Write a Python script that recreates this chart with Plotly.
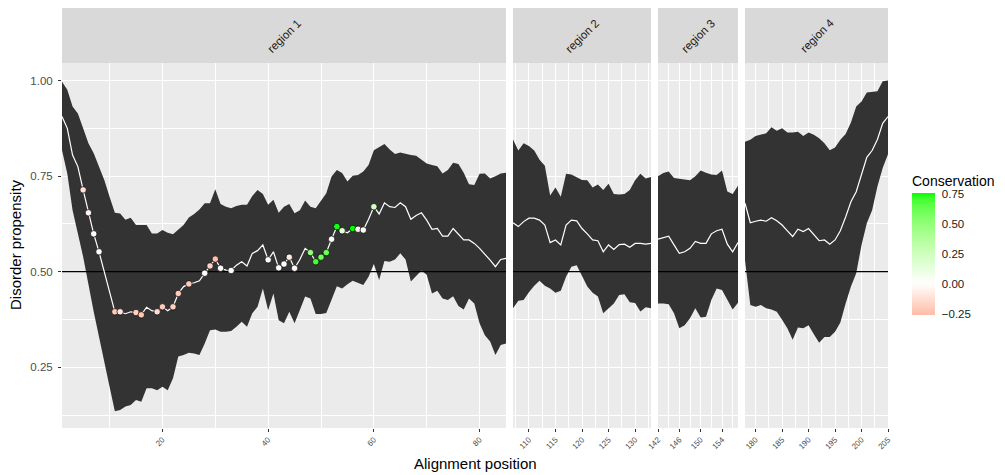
import plotly.graph_objects as go

# ---------------- data ----------------
pos1 = list(range(1, 86))
upper1 = [0.997, 0.976, 0.932, 0.914, 0.875, 0.836, 0.810, 0.775, 0.740, 0.696,
          0.654, 0.652, 0.636, 0.641, 0.622, 0.622, 0.622, 0.600, 0.600, 0.609,
          0.602, 0.598, 0.609, 0.622, 0.642, 0.651, 0.663, 0.679, 0.679, 0.716,
          0.677, 0.670, 0.666, 0.672, 0.675, 0.675, 0.698, 0.714, 0.703, 0.675,
          0.688, 0.654, 0.670, 0.677, 0.653, 0.661, 0.686, 0.670, 0.666, 0.686,
          0.705, 0.749, 0.766, 0.758, 0.736, 0.751, 0.753, 0.762, 0.779, 0.818,
          0.827, 0.834, 0.820, 0.808, 0.812, 0.808, 0.805, 0.803, 0.792, 0.783,
          0.779, 0.776, 0.757, 0.766, 0.785, 0.782, 0.759, 0.729, 0.727, 0.756,
          0.757, 0.744, 0.750, 0.757, 0.759]
median1 = [0.906, 0.875, 0.805, 0.775, 0.714, 0.654, 0.599, 0.552, 0.500, 0.447,
           0.395, 0.395, 0.390, 0.395, 0.393, 0.387, 0.407, 0.398, 0.395, 0.408,
           0.398, 0.408, 0.443, 0.461, 0.468, 0.471, 0.476, 0.496, 0.515, 0.533,
           0.509, 0.504, 0.503, 0.517, 0.526, 0.515, 0.548, 0.555, 0.570, 0.531,
           0.552, 0.510, 0.520, 0.538, 0.509, 0.532, 0.561, 0.550, 0.526, 0.538,
           0.550, 0.585, 0.618, 0.607, 0.602, 0.613, 0.611, 0.609, 0.637, 0.670,
           0.651, 0.680, 0.670, 0.668, 0.680, 0.670, 0.637, 0.647, 0.654, 0.635,
           0.611, 0.613, 0.593, 0.593, 0.613, 0.599, 0.583, 0.583, 0.574, 0.561,
           0.546, 0.530, 0.513, 0.532, 0.535]
lower1 = [0.818, 0.757, 0.661, 0.600, 0.539, 0.469, 0.395, 0.330, 0.269, 0.199,
          0.135, 0.138, 0.147, 0.151, 0.164, 0.160, 0.195, 0.195, 0.190, 0.199,
          0.190, 0.221, 0.278, 0.282, 0.288, 0.286, 0.282, 0.312, 0.347, 0.349,
          0.343, 0.343, 0.345, 0.356, 0.369, 0.356, 0.391, 0.408, 0.456, 0.399,
          0.443, 0.373, 0.365, 0.395, 0.365, 0.400, 0.435, 0.430, 0.389, 0.389,
          0.392, 0.426, 0.462, 0.456, 0.467, 0.476, 0.471, 0.465, 0.487, 0.520,
          0.478, 0.528, 0.526, 0.532, 0.548, 0.532, 0.474, 0.489, 0.503, 0.492,
          0.443, 0.450, 0.430, 0.426, 0.436, 0.410, 0.401, 0.430, 0.417, 0.365,
          0.334, 0.317, 0.282, 0.308, 0.312]

pos2 = list(range(107, 134))
upper2 = [0.846, 0.817, 0.836, 0.829, 0.817, 0.793, 0.777, 0.699, 0.720, 0.696,
          0.756, 0.754, 0.747, 0.740, 0.739, 0.720, 0.728, 0.714, 0.730, 0.703,
          0.702, 0.703, 0.714, 0.739, 0.756, 0.744, 0.748]
median2 = [0.628, 0.618, 0.631, 0.640, 0.640, 0.635, 0.622, 0.576, 0.583, 0.570,
           0.622, 0.635, 0.633, 0.613, 0.599, 0.583, 0.581, 0.552, 0.570, 0.558,
           0.571, 0.572, 0.564, 0.574, 0.574, 0.572, 0.574]
lower2 = [0.404, 0.424, 0.426, 0.446, 0.463, 0.476, 0.463, 0.456, 0.445, 0.450,
          0.487, 0.513, 0.517, 0.489, 0.461, 0.445, 0.435, 0.391, 0.404, 0.417,
          0.439, 0.441, 0.420, 0.418, 0.396, 0.407, 0.404]

pos3 = list(range(142, 158))
upper3 = [0.750, 0.758, 0.762, 0.745, 0.743, 0.741, 0.739, 0.750, 0.765, 0.759,
          0.754, 0.753, 0.765, 0.710, 0.703, 0.725]
median3 = [0.585, 0.590, 0.593, 0.570, 0.548, 0.552, 0.561, 0.579, 0.574, 0.574,
           0.599, 0.607, 0.611, 0.572, 0.552, 0.576]
lower3 = [0.417, 0.417, 0.415, 0.391, 0.352, 0.360, 0.378, 0.404, 0.380, 0.382,
          0.426, 0.456, 0.452, 0.426, 0.401, 0.419]

pos4 = list(range(178, 206))
upper4 = [0.840, 0.845, 0.855, 0.858, 0.862, 0.878, 0.869, 0.875, 0.864, 0.864,
          0.866, 0.855, 0.864, 0.858, 0.849, 0.836, 0.818, 0.825, 0.845, 0.860,
          0.890, 0.932, 0.945, 0.969, 0.971, 0.972, 0.998, 1.000]
median4 = [0.679, 0.628, 0.632, 0.635, 0.632, 0.641, 0.633, 0.622, 0.607, 0.592,
           0.611, 0.605, 0.613, 0.596, 0.581, 0.583, 0.572, 0.583, 0.607, 0.643,
           0.683, 0.709, 0.757, 0.799, 0.817, 0.846, 0.888, 0.906]
lower4 = [0.530, 0.413, 0.408, 0.413, 0.404, 0.401, 0.395, 0.374, 0.352, 0.322,
          0.354, 0.352, 0.360, 0.336, 0.314, 0.329, 0.329, 0.343, 0.367, 0.417,
          0.461, 0.496, 0.570, 0.627, 0.661, 0.723, 0.771, 0.807]

# conserved positions (region 1) and their conservation score
point_pos = [5, 6, 7, 8, 11, 12, 15, 16, 19, 20, 22, 23, 25, 28, 29, 30, 31, 33,
             40, 42, 43, 44, 45, 48, 49, 50, 51, 52, 53, 54, 56, 57, 58, 60]
conservation = [-0.12, -0.04, 0.0, 0.0, -0.20, -0.10, -0.18, -0.22, -0.14, -0.20,
                -0.18, -0.20, -0.20, 0.0, -0.17, -0.25, 0.0, 0.0,
                0.0, 0.0, 0.0, -0.08, 0.0, 0.50, 0.70, 0.60, 0.62, 0.03, 0.74,
                0.15, 0.76, -0.06, 0.0, 0.22]

region_names = ["region 1", "region 2", "region 3", "region 4"]
x_ranges = [[1, 85], [107, 133], [142, 157], [178, 205]]
x_dticks = [20, 5, 4, 5]
x_tick0 = [0, 0, 142, 0]
threshold = 0.5
y_range = [0.091, 1.046]
c_min, c_max = -0.262, 0.757
cbar_ticks = [-0.25, 0, 0.25, 0.5, 0.75]
cbar_ticktext = ["\u22120.25", "0.00", "0.25", "0.50", "0.75"]

# ---------------- colour scale (ggplot gradient2 red-white-green in Lab) ----------------
def _srgb_to_lin(c):
    c = c / 255.0
    return c / 12.92 if c <= 0.04045 else ((c + 0.055) / 1.055) ** 2.4

def _lin_to_srgb(c):
    c = max(0.0, min(1.0, c))
    v = 12.92 * c if c <= 0.0031308 else 1.055 * c ** (1 / 2.4) - 0.055
    return int(round(max(0, min(1, v)) * 255))

def _to_lab(rgb):
    r, g, b = [_srgb_to_lin(v) for v in rgb]
    X = (0.4124 * r + 0.3576 * g + 0.1805 * b) / 0.95047
    Y = (0.2126 * r + 0.7152 * g + 0.0722 * b)
    Z = (0.0193 * r + 0.1192 * g + 0.9505 * b) / 1.08883
    f = lambda t: t ** (1 / 3) if t > 0.008856 else 7.787 * t + 16 / 116
    fx, fy, fz = f(X), f(Y), f(Z)
    return (116 * fy - 16, 500 * (fx - fy), 200 * (fy - fz))

def _from_lab(lab):
    L, a, b = lab
    fy = (L + 16) / 116
    fx = fy + a / 500
    fz = fy - b / 200
    finv = lambda t: t ** 3 if t ** 3 > 0.008856 else (t - 16 / 116) / 7.787
    X, Y, Z = finv(fx) * 0.95047, finv(fy), finv(fz) * 1.08883
    r = 3.2406 * X - 1.5372 * Y - 0.4986 * Z
    g = -0.9689 * X + 1.8758 * Y + 0.0415 * Z
    bb = 0.0557 * X - 0.2040 * Y + 1.0570 * Z
    return "rgb(%d,%d,%d)" % (_lin_to_srgb(r), _lin_to_srgb(g), _lin_to_srgb(bb))

LOW, MID, HIGH = _to_lab((255, 0, 0)), _to_lab((255, 255, 255)), _to_lab((0, 255, 0))
ext = max(abs(c_min), abs(c_max))
colorscale = []
N = 24
for k in range(N + 1):
    s = k / N
    v = c_min + s * (c_max - c_min)
    t = v / ext
    w = abs(t)
    tgt = LOW if t < 0 else HIGH
    lab = tuple(MID[j] + w * (tgt[j] - MID[j]) for j in range(3))
    colorscale.append([s, _from_lab(lab)])

# ---------------- figure ----------------
W, H = 1005, 475
xdom_px = [(62, 506), (513, 651), (658, 738), (745, 888)]
ytop_px, ybot_px = 63, 428
strip_top_px = 8
ydom = [1 - ybot_px / H, 1 - ytop_px / H]

FONT = "Liberation Sans, Arial, Helvetica, sans-serif"
fig = go.Figure()

regions = [(pos1, upper1, median1, lower1), (pos2, upper2, median2, lower2),
           (pos3, upper3, median3, lower3), (pos4, upper4, median4, lower4)]

layout = dict(
    width=W, height=H, margin=dict(l=0, r=0, t=0, b=0, autoexpand=False),
    paper_bgcolor="white", plot_bgcolor="#EBEBEB",
    font=dict(family=FONT, color="#1A1A1A"),
    showlegend=False,
)
shapes = []
annotations = []

for i, (pos, up, med, lo) in enumerate(regions):
    sfx = "" if i == 0 else str(i + 1)
    xa, ya = "x" + sfx, "y" + sfx
    fig.add_trace(go.Scatter(x=pos + pos[::-1], y=up + lo[::-1], fill="toself",
                             fillcolor="#333333", mode="lines", line=dict(width=0),
                             hoverinfo="skip", xaxis=xa, yaxis=ya))
    fig.add_trace(go.Scatter(x=x_ranges[i], y=[threshold, threshold], mode="lines",
                             line=dict(color="black", width=1.3), hoverinfo="skip",
                             xaxis=xa, yaxis=ya))
    fig.add_trace(go.Scatter(x=pos, y=med, mode="lines",
                             line=dict(color="white", width=1.2), xaxis=xa, yaxis=ya))
    d0, d1 = xdom_px[i]
    layout["xaxis" + sfx] = dict(
        domain=[d0 / W, d1 / W], range=x_ranges[i], anchor=ya, automargin=False,
        tickmode="linear", tick0=x_tick0[i], dtick=x_dticks[i],
        showgrid=True, gridcolor="white", gridwidth=1.1,
        minor=dict(tickmode="linear", tick0=x_tick0[i], dtick=x_dticks[i] / 2,
                   showgrid=True, gridcolor="white", gridwidth=0.5, ticks=""),
        ticks="outside", ticklen=3, tickwidth=1, tickcolor="#333333",
        tickangle=-45, tickfont=dict(size=8, color="#4D4D4D", family=FONT),
        zeroline=False, showline=False, fixedrange=True,
    )
    layout["yaxis" + sfx] = dict(
        domain=ydom, range=y_range, anchor=xa, automargin=False,
        tickmode="linear", tick0=0, dtick=0.25, tickformat=".2f",
        showgrid=True, gridcolor="white", gridwidth=1.1,
        minor=dict(tickmode="linear", tick0=0, dtick=0.125, showgrid=True,
                   gridcolor="white", gridwidth=0.5, ticks=""),
        ticks="outside" if i == 0 else "", ticklen=3, tickwidth=1, tickcolor="#333333",
        showticklabels=(i == 0), ticklabelstandoff=3,
        tickfont=dict(size=11.5, color="#4D4D4D", family=FONT),
        zeroline=False, showline=False, fixedrange=True,
    )
    shapes.append(dict(type="rect", xref="paper", yref="paper",
                       x0=d0 / W, x1=d1 / W, y0=ydom[1], y1=1 - strip_top_px / H,
                       fillcolor="#D9D9D9", line=dict(width=0), layer="below"))
    annotations.append(dict(text=region_names[i], xref="paper", yref="paper",
                            x=(d0 + d1) / 2 / W, y=1 - (strip_top_px + ytop_px) / 2 / H,
                            xanchor="center", yanchor="middle",
                            showarrow=False, textangle=-45,
                            font=dict(size=11.5, color="#1A1A1A", family=FONT)))

# conserved points
pt_y = [median1[pos1.index(p)] for p in point_pos]
fig.add_trace(go.Scatter(
    x=point_pos, y=pt_y, mode="markers", xaxis="x", yaxis="y",
    marker=dict(size=6.5, color=conservation, colorscale=colorscale,
                cmin=c_min, cmax=c_max, line=dict(color="black", width=0.7),
                showscale=True,
                colorbar=dict(
                    title=dict(text="Conservation", side="top",
                               font=dict(size=14, color="black", family=FONT)),
                    x=912 / W, xanchor="left", xpad=0,
                    y=1 - 172 / H, yanchor="top", ypad=0,
                    len=143 / H, lenmode="fraction", thickness=23,
                    outlinewidth=0, tickmode="array",
                    tickvals=cbar_ticks, ticktext=cbar_ticktext,
                    ticks="outside", ticklen=5, tickcolor="rgba(0,0,0,0)",
                    tickfont=dict(size=11.5, color="#1A1A1A", family=FONT),
                ))))

annotations.append(dict(text="Alignment position", xref="paper", yref="paper",
                        x=475 / W, y=1 - 463 / H, xanchor="center", yanchor="middle",
                        showarrow=False,
                        font=dict(size=15, color="black", family=FONT)))
annotations.append(dict(text="Disorder propensity", xref="paper", yref="paper",
                        x=15 / W, y=1 - 245 / H, xanchor="center", yanchor="middle",
                        showarrow=False, textangle=-90,
                        font=dict(size=15, color="black", family=FONT)))

layout["shapes"] = shapes
layout["annotations"] = annotations
fig.update_layout(**layout)
fig.write_html("out.html")
